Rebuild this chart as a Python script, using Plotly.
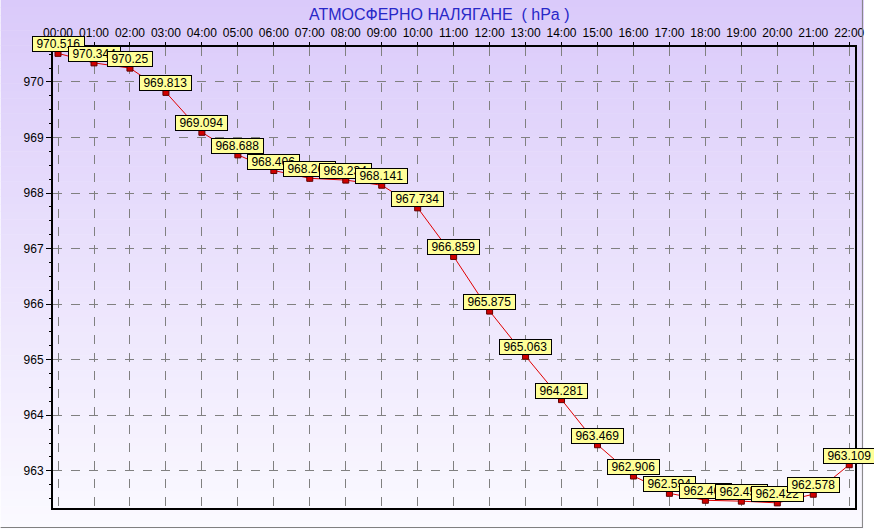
import plotly.graph_objects as go

hours = ["00:00", "01:00", "02:00", "03:00", "04:00", "05:00", "06:00", "07:00",
         "08:00", "09:00", "10:00", "11:00", "12:00", "13:00", "14:00", "15:00",
         "16:00", "17:00", "18:00", "19:00", "20:00", "21:00", "22:00"]
pressure = [970.516, 970.344, 970.25, 969.813, 969.094, 968.688, 968.406, 968.266,
            968.234, 968.141, 967.734, 966.859, 965.875, 965.063, 964.281, 963.469,
            962.906, 962.594, 962.469, 962.453, 962.422, 962.578, 963.109]
y_ticks = [963, 964, 965, 966, 967, 968, 969, 970]
title_text = "АТМОСФЕРНО НАЛЯГАНЕ  ( hPa )"

W, H = 874, 529
L, R, T, B = 53, 865, 47, 508
FONT = "Liberation Sans, Arial, sans-serif"

xs = list(range(len(hours)))

fig = go.Figure()
fig.add_trace(go.Scatter(
    x=xs, y=pressure, mode="lines+markers",
    line=dict(color="#e00000", width=1),
    marker=dict(symbol="square", size=6, color="#d00000",
                line=dict(color="#600000", width=1)),
    hoverinfo="skip", showlegend=False,
))

annotations = []
for x, v in zip(xs, pressure):
    s = str(v)
    w = sum(3.4 if ch == "." else 6.7 for ch in s) + 7
    annotations.append(dict(
        x=x, y=v, xref="x", yref="y", text=s, showarrow=False,
        xanchor="center", yanchor="bottom", yshift=1, width=w, align="center",
        bgcolor="#ffff99", bordercolor="#000000", borderwidth=1, borderpad=0,
        font=dict(family=FONT, size=12, color="#000000"),
    ))
annotations.append(dict(
    text=title_text, showarrow=False, xref="paper", yref="paper",
    x=(444 - L) / (R - L), y=(B - 15) / (B - T), xanchor="center", yanchor="middle",
    font=dict(family=FONT, size=16, color="#2828c8"),
))

# background gradient strips (paper coordinates)
shapes = []
n = 70
top_c = (218, 202, 250)
bot_c = (251, 250, 255)
pw, ph = R - L, B - T
for i in range(n):
    y0p = i * H / n
    y1p = (i + 1) * H / n + 0.5
    f = (i + 0.5) / n
    c = tuple(round(top_c[k] + (bot_c[k] - top_c[k]) * f) for k in range(3))
    shapes.append(dict(
        type="rect", xref="paper", yref="paper", layer="below",
        x0=(0 - L) / pw, x1=(W - L) / pw,
        y0=(B - y1p) / ph, y1=(B - y0p) / ph,
        fillcolor="rgb(%d,%d,%d)" % c, line=dict(width=0),
    ))
# outer gray frame lines (right and bottom)
shapes.append(dict(type="line", xref="paper", yref="paper",
                   x0=(872.5 - L) / pw, x1=(872.5 - L) / pw,
                   y0=(B - 0) / ph, y1=(B - 527.5) / ph,
                   line=dict(color="#808080", width=1)))
shapes.append(dict(type="line", xref="paper", yref="paper",
                   x0=(0 - L) / pw, x1=(873 - L) / pw,
                   y0=(B - 527.5) / ph, y1=(B - 527.5) / ph,
                   line=dict(color="#808080", width=1)))

fig.update_layout(
    width=W, height=H,
    margin=dict(l=L, r=W - R, t=T, b=H - B, pad=0),
    paper_bgcolor="#ffffff", plot_bgcolor="rgba(0,0,0,0)",
    font=dict(family=FONT, size=12, color="#000000"),
    shapes=shapes, annotations=annotations,
    xaxis=dict(
        side="top", range=[-0.14, 22.16], tickmode="array",
        tickvals=xs, ticktext=hours,
        showgrid=True, gridcolor="#808080", griddash="dash", gridwidth=1,
        showline=True, linecolor="#000000", linewidth=2, mirror=True,
        ticks="outside", ticklen=3, tickcolor="#000000",
        tickfont=dict(family=FONT, size=12, color="#000000"),
        zeroline=False, fixedrange=True,
    ),
    yaxis=dict(
        range=[962.33, 970.63], tickmode="array", tickvals=y_ticks,
        ticktext=[str(t) for t in y_ticks],
        showgrid=True, gridcolor="#808080", griddash="dash", gridwidth=1,
        showline=True, linecolor="#000000", linewidth=2, mirror=True,
        ticks="outside", ticklen=5, tickcolor="#000000",
        minor=dict(dtick=0.25, ticks="outside", ticklen=2, tickcolor="#000000", showgrid=False),
        tickfont=dict(family=FONT, size=12, color="#000000"),
        zeroline=False, fixedrange=True,
    ),
)

fig.write_html("out.html", config={"displayModeBar": False},
               post_script="document.body.style.margin='0';")
